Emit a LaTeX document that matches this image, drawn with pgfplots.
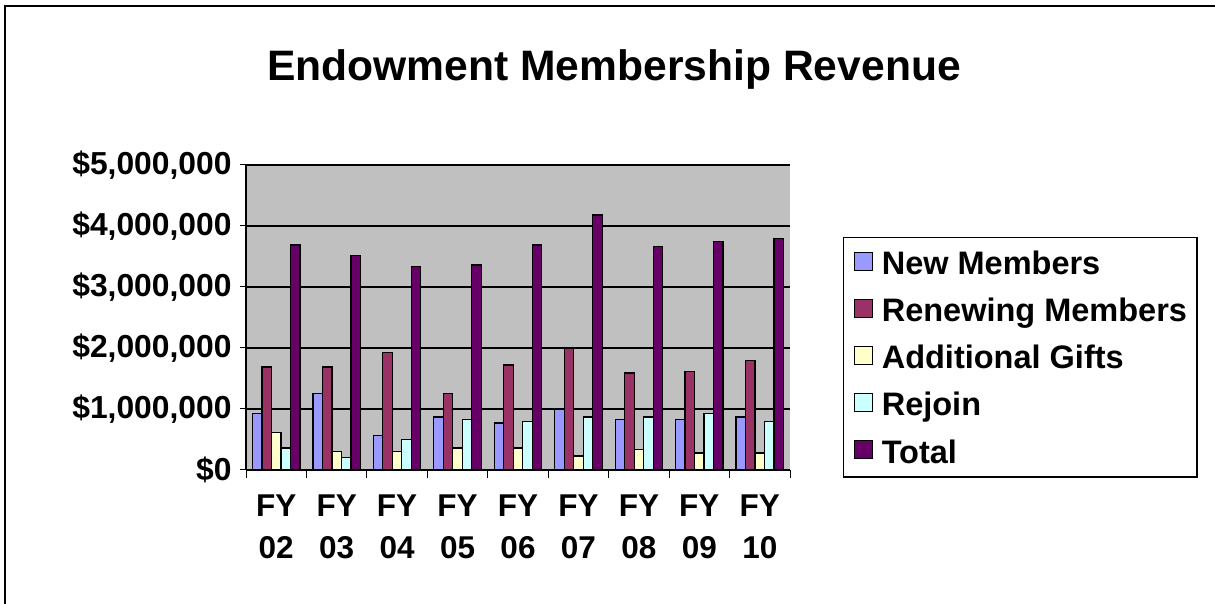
\documentclass[border=0pt]{standalone}
\usepackage{pgfplots}
\pgfplotsset{compat=1.18}
\usepackage{fontspec}
\setmainfont{Liberation Sans}
\definecolor{cNew}{HTML}{9999FF}
\definecolor{cRen}{HTML}{993366}
\definecolor{cAdd}{HTML}{FFFFCC}
\definecolor{cRej}{HTML}{CCFFFF}
\definecolor{cTot}{HTML}{660066}
\definecolor{cWall}{HTML}{C0C0C0}
\begin{document}
\begin{tikzpicture}[x=1bp,y=1bp]
\useasboundingbox (0,0) rectangle (1215,604);
\draw[black, line width=2.5bp] (5,-5) -- (5,598) -- (1220,598);
\node[font=\fontsize{42.6bp}{48bp}\selectfont\bfseries] at (614,535) {Endowment Membership Revenue};
\begin{axis}[
  at={(246bp,134bp)}, anchor=south west,
  scale only axis, width=544bp, height=305bp,
  xmin=-0.5, xmax=8.5, ymin=0, ymax=5000000,
  ybar=0pt, bar width=9.5bp,
  axis lines*=left,
  axis line style={black, line width=1.2bp},
  axis background/.style={fill=cWall},
  ymajorgrids, grid style={black, line width=1.5bp},
  ytick={0,1000000,2000000,3000000,4000000,5000000},
  yticklabels={{\$0},{\$1,000,000},{\$2,000,000},{\$3,000,000},{\$4,000,000},{\$5,000,000}},
  scaled y ticks=false,
  xtick={0,...,8},
  xticklabels={FY\\02,FY\\03,FY\\04,FY\\05,FY\\06,FY\\07,FY\\08,FY\\09,FY\\10},
  minor xtick={-0.5,0.5,...,8.5},
  tick align=outside,
  major tick length=6bp, minor tick length=8bp,
  major x tick style={draw=none},
  minor x tick style={black, line width=1bp},
  ytick style={black, line width=1bp},
  xticklabel style={font=\fontsize{31.5bp}{42bp}\selectfont\bfseries, align=center, yshift=-15bp},
  yticklabel style={font=\fontsize{31.8bp}{36bp}\selectfont\bfseries, xshift=-5bp},
  legend style={at={(1.0974,0.764)}, anchor=north west, draw=black, line width=1.2bp,
    font=\fontsize{32.5bp}{36bp}\selectfont\bfseries, row sep=24bp,
    inner xsep=10bp, inner ysep=14bp,
    nodes={inner sep=0pt, text height=23bp, text depth=0pt, anchor=west},
    column sep=0pt},
  legend cell align=left,
  legend image code/.code={\draw[#1, draw=black, line width=1.2bp] (0bp,-7bp) rectangle (18bp,11bp);},
]
\addplot[draw=black, line width=1.2bp, fill=cNew] coordinates {(0,920000) (1,1260000) (2,570000) (3,870000) (4,770000) (5,1000000) (6,830000) (7,830000) (8,870000)};
\addplot[draw=black, line width=1.2bp, fill=cRen] coordinates {(0,1690000) (1,1690000) (2,1920000) (3,1260000) (4,1720000) (5,2000000) (6,1590000) (7,1610000) (8,1790000)};
\addplot[draw=black, line width=1.2bp, fill=cAdd] coordinates {(0,620000) (1,300000) (2,300000) (3,360000) (4,360000) (5,230000) (6,330000) (7,280000) (8,280000)};
\addplot[draw=black, line width=1.2bp, fill=cRej] coordinates {(0,360000) (1,210000) (2,500000) (3,830000) (4,790000) (5,870000) (6,870000) (7,930000) (8,790000)};
\addplot[draw=black, line width=1.2bp, fill=cTot] coordinates {(0,3690000) (1,3520000) (2,3330000) (3,3360000) (4,3690000) (5,4180000) (6,3670000) (7,3740000) (8,3800000)};
\legend{\hspace{9bp}New Members,\hspace{9bp}Renewing Members,\hspace{9bp}Additional Gifts,\hspace{9bp}Rejoin,\hspace{9bp}Total}
\end{axis}
\end{tikzpicture}
\end{document}
